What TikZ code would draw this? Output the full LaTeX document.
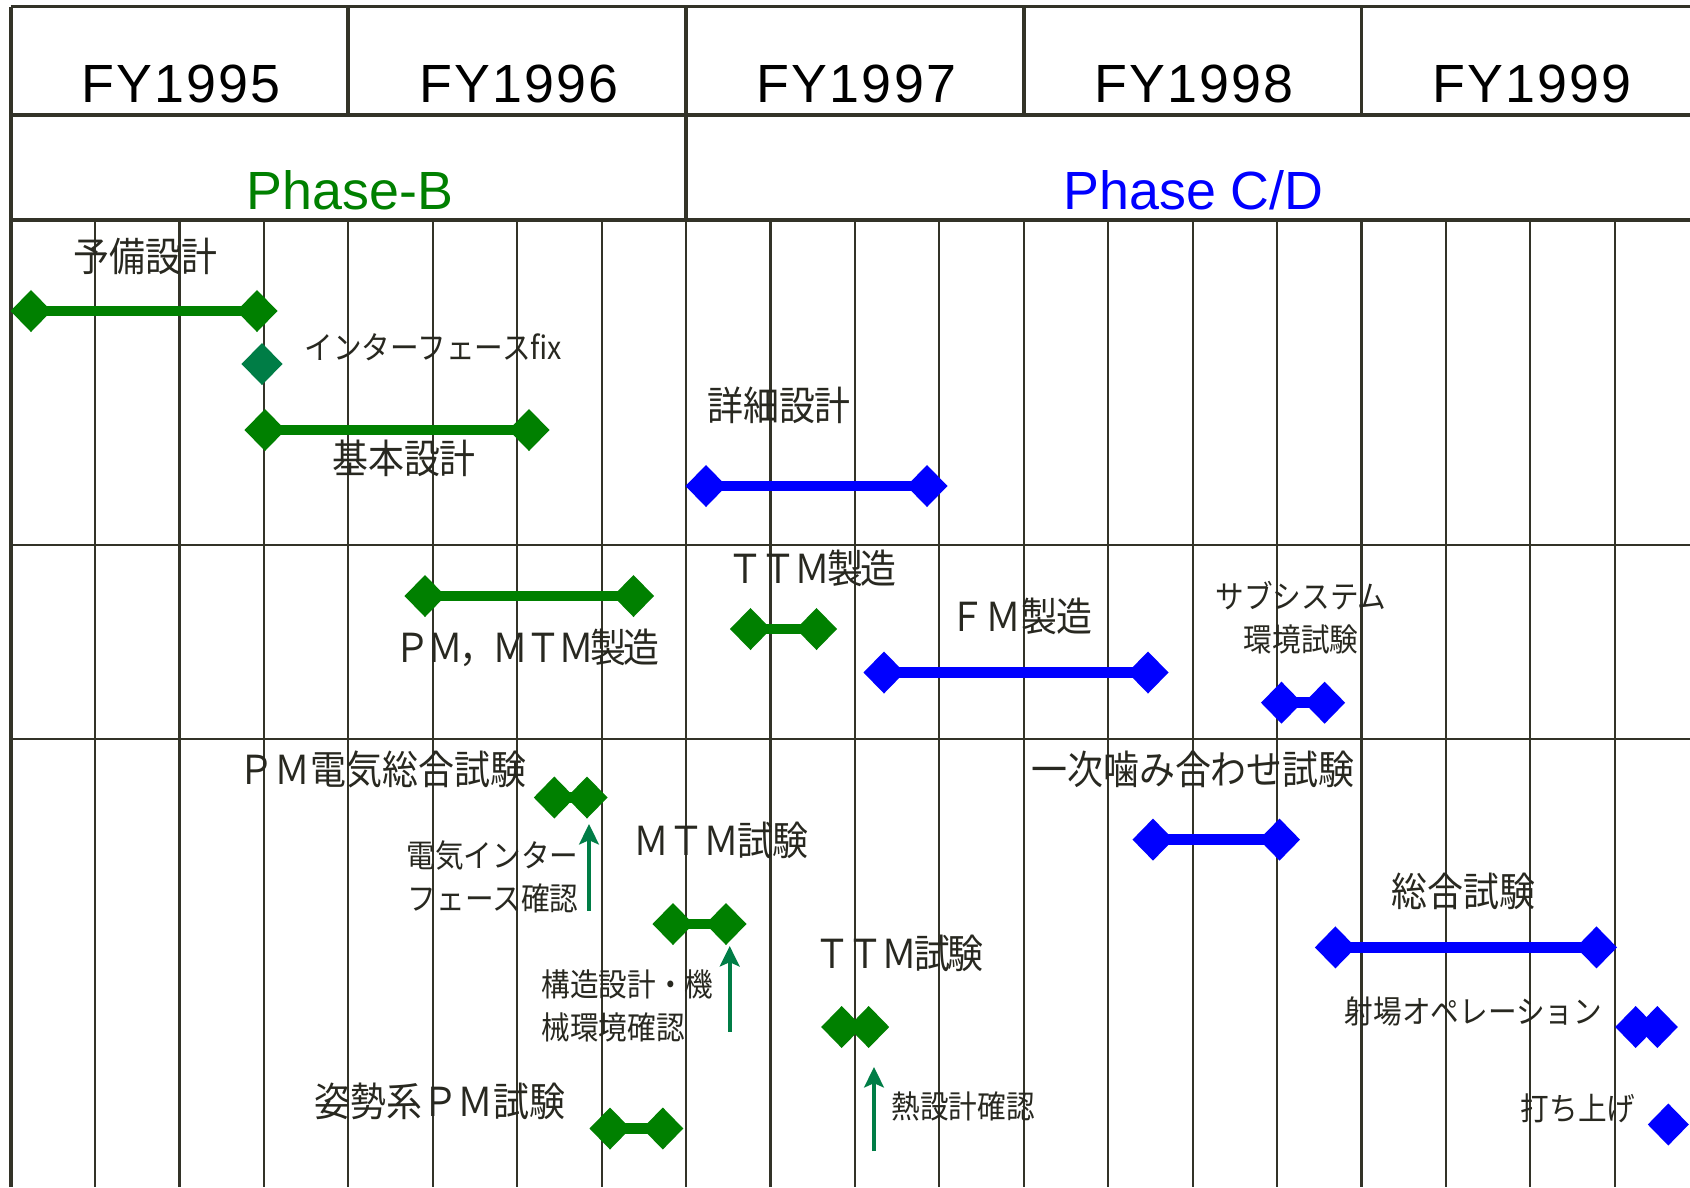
\documentclass[tikz,border=0pt]{standalone}
\usepackage{fontspec}
\usetikzlibrary{shapes.geometric,arrows.meta}
\newfontfamily\jpf[FakeStretch=0.9]{Noto Sans CJK JP}
\newfontfamily\hdf{Liberation Sans}
\definecolor{gridc}{RGB}{51,51,40}
\definecolor{txtc}{RGB}{40,40,32}
\definecolor{ggreen}{RGB}{0,128,0}
\definecolor{bblue}{RGB}{0,0,255}
\definecolor{tealc}{RGB}{0,125,70}
\tikzset{
  gl/.style={draw=gridc, line width=0.6pt},
  hl/.style={draw=gridc, line width=1.1pt},
  dm/.style={shape=diamond, minimum width=0.41cm, minimum height=0.42cm, inner sep=0pt, outer sep=0pt, draw=none},
  gdm/.style={dm, fill=ggreen},
  bdm/.style={dm, fill=bblue},
  tdm/.style={dm, fill=tealc},
  gbar/.style={draw=ggreen, line width=3.1pt},
  bbar/.style={draw=bblue, line width=3.1pt},
  lbl/.style={font=\jpf\fontsize{11.35pt}{13pt}\selectfont, text=txtc, inner sep=0pt},
  slbl/.style={font=\jpf\fontsize{9.05pt}{11pt}\selectfont, text=txtc, inner sep=0pt},
  hd/.style={font=\hdf\fontsize{15.3pt}{18pt}\selectfont, inner sep=0pt, anchor=base},
  fy/.style={hd, font=\hdf\fontsize{15.3pt}{18pt}\selectfont\addfontfeatures{LetterSpace=4}},
  arr/.style={draw=tealc, line width=1.1pt, -{Stealth[length=5.8pt,width=5.6pt,inset=1.2pt]}}
}
\begin{document}
\begin{tikzpicture}[x=0.01cm,y=-0.01cm]
\useasboundingbox (0,0) rectangle (1690,1187);
\fill[white] (0,0) rectangle (1690,1187);
\clip (0,0) rectangle (1690,1187);

% grid
\foreach \k in {1,...,19}
  \draw[gl] ({10.6+84.43*\k},220) -- ({10.6+84.43*\k},1187);
\draw[gl] (10.6,545) -- (1700,545);
\draw[gl] (10.6,739) -- (1700,739);
\draw[hl] (10.6,6.5) -- (10.6,1187);

% header
\draw[hl] (10.6,6.5) -- (1700,6.5);
\draw[hl] (10.6,115) -- (1700,115);
\draw[hl] (10.6,220) -- (1700,220);
\foreach \k in {4,8,12,16}
  \draw[hl] ({10.6+84.43*\k},6.5) -- ({10.6+84.43*\k},115);
\draw[hl] ({10.6+84.43*8},115) -- ({10.6+84.43*8},220);

\node[fy] (fy95) at (181,102) {FY1995};
\node[fy] (fy96) at (518.7,102) {FY1996};
\node[fy] (fy97) at (856.4,102) {FY1997};
\node[fy] (fy98) at (1194.1,102) {FY1998};
\node[fy] (fy99) at (1531.8,102) {FY1999};
\node[hd, text=ggreen] (phb) at (350,209) {Phase-B};
\node[hd, text=bblue] (phcd) at (1193.5,209) {Phase C/D};

% row 1
\node[lbl] (t1) at (145.5,256.5) {予備設計};
\node[gdm] (a1) at (31,311) {};
\node[gdm] (a2) at (257,311) {};
\draw[gbar] (a1.center) -- (a2.center);
\node[tdm] (ms) at (262,364) {};
\node[slbl, anchor=west] (t2) at (304,347) {インターフェースfix};
\node[gdm] (b1) at (265,430) {};
\node[gdm] (b2) at (529,430) {};
\draw[gbar] (b1.center) -- (b2.center);
\node[lbl] (t3) at (404,458) {基本設計};
\node[lbl] (t4) at (779,405) {詳細設計};
\node[bdm] (c1) at (706,486) {};
\node[bdm] (c2) at (927,486) {};
\draw[bbar] (c1.center) -- (c2.center);

% row 2
\node[gdm] (d1) at (425,596) {};
\node[gdm] (d2) at (633.5,596) {};
\draw[gbar] (d1.center) -- (d2.center);
\node[lbl, font=\jpf\fontsize{11.35pt}{13pt}\selectfont\addfontfeatures{LetterSpace=-8}] (t5) at (527,648) {ＰＭ，ＭＴＭ製造};
\node[lbl, font=\jpf\fontsize{11.35pt}{13pt}\selectfont\addfontfeatures{LetterSpace=-7}] (t6) at (812,568) {ＴＴＭ製造};
\node[lbl] (t7) at (1021,616.5) {ＦＭ製造};
\node[bdm] (f1) at (884,672.5) {};
\node[bdm] (f2) at (1148,672.5) {};
\draw[bbar] (f1.center) -- (f2.center);
\node[gdm] (e1) at (750.5,629) {};
\node[gdm] (e2) at (816.5,629) {};
\draw[gbar] (e1.center) -- (e2.center);
\node[slbl] (t8) at (1301,596) {サブシステム};
\node[slbl] (t9) at (1301,639) {環境試験};
\node[bdm] (g1) at (1281.5,702.7) {};
\node[bdm] (g2) at (1324.6,702.7) {};
\draw[bbar] (g1.center) -- (g2.center);

% row 3
\node[lbl] (t10) at (382.6,769.5) {ＰＭ電気総合試験};
\node[gdm] (h1) at (554.3,797.5) {};
\node[gdm] (h2) at (587,797.5) {};
\draw[gbar] (h1.center) -- (h2.center);
\coordinate (ar1s) at (589,910.7);
\coordinate (ar1e) at (589,824);
\draw[arr] (ar1s) -- (ar1e);
\node[slbl, anchor=east] (t11) at (579,855) {電気インター};
\node[slbl, anchor=east] (t12) at (579,898) {フェース確認};

\node[lbl, font=\jpf\fontsize{11.35pt}{13pt}\selectfont\addfontfeatures{LetterSpace=-3}] (t13) at (721,840) {ＭＴＭ試験};
\node[gdm] (i1) at (673,924) {};
\node[gdm] (i2) at (726,924) {};
\draw[gbar] (i1.center) -- (i2.center);
\coordinate (ar2s) at (729.7,1031.5);
\coordinate (ar2e) at (729.7,946);
\draw[arr] (ar2s) -- (ar2e);
\node[slbl, anchor=west] (t14) at (541,984) {構造設計・機};
\node[slbl, anchor=west] (t15) at (541,1027) {械環境確認};

\node[lbl, font=\jpf\fontsize{11.35pt}{13pt}\selectfont\addfontfeatures{LetterSpace=-7}] (t16) at (899,953) {ＴＴＭ試験};
\node[gdm] (j1) at (841.7,1027) {};
\node[gdm] (j2) at (868.7,1027) {};
\draw[gbar] (j1.center) -- (j2.center);
\coordinate (ar3s) at (874,1151);
\coordinate (ar3e) at (874,1067);
\draw[arr] (ar3s) -- (ar3e);
\node[slbl, anchor=west] (t17) at (891,1106) {熱設計確認};

\node[lbl] (t18) at (440,1101.5) {姿勢系ＰＭ試験};
\node[gdm] (k1) at (610,1128.5) {};
\node[gdm] (k2) at (662.8,1128.5) {};
\draw[gbar] (k1.center) -- (k2.center);

\node[lbl] (t19) at (1193,769.5) {一次噛み合わせ試験};
\node[bdm] (l1) at (1153,839.6) {};
\node[bdm] (l2) at (1279.5,839.6) {};
\draw[bbar] (l1.center) -- (l2.center);

\node[lbl] (t20) at (1463.6,891.3) {総合試験};
\node[bdm] (m1) at (1335.4,947.4) {};
\node[bdm] (m2) at (1596.5,947.4) {};
\draw[bbar] (m1.center) -- (m2.center);

\node[slbl] (t21) at (1473.5,1011) {射場オペレーション};
\node[bdm] (n1) at (1635.7,1027) {};
\node[bdm] (n2) at (1657.3,1027) {};
\draw[bbar] (n1.center) -- (n2.center);

\node[slbl] (t22) at (1578,1108.5) {打ち上げ};
\node[bdm] (lch) at (1668.3,1124.5) {};
\end{tikzpicture}
\end{document}
